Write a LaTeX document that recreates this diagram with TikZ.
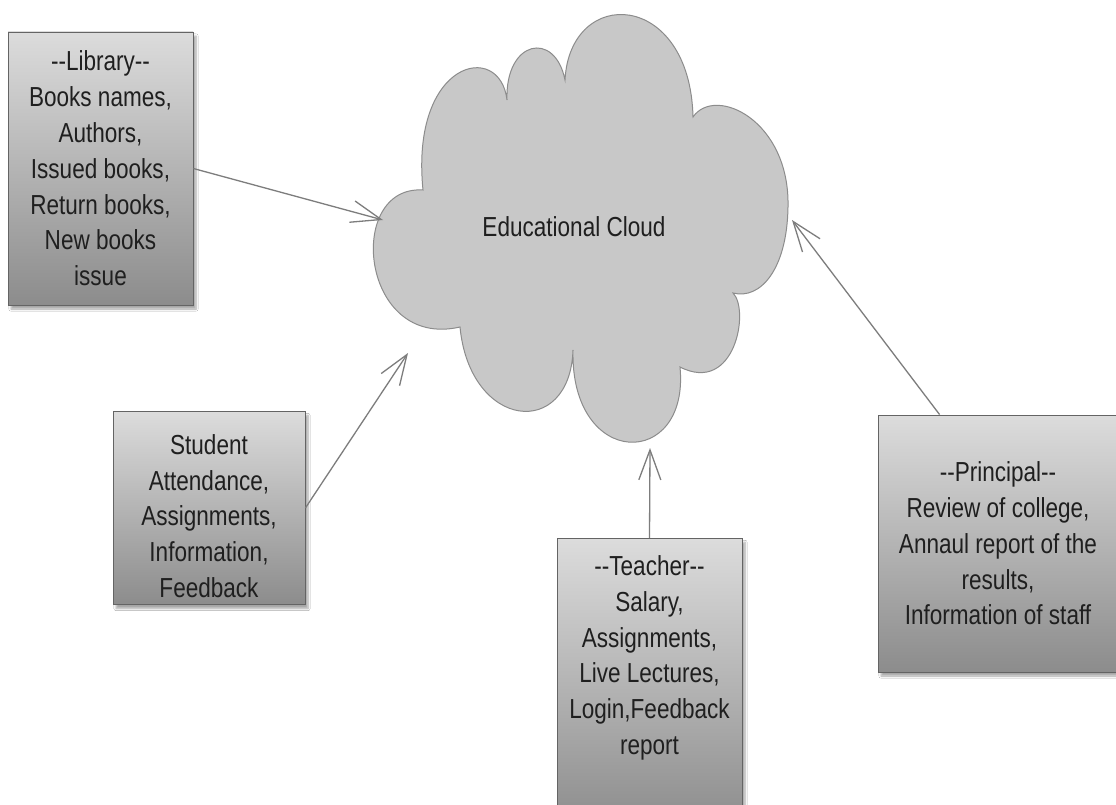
\documentclass[tikz,border=0pt]{standalone}
\usepackage{fontspec}
\setmainfont[FakeStretch=0.82]{Liberation Sans}
\usepackage{tikz}
\usetikzlibrary{calc,arrows.meta,positioning}
\usetikzlibrary{shadows.blur}
\definecolor{boxtop}{RGB}{220,220,220}
\definecolor{boxbottom}{RGB}{140,140,140}
\definecolor{boxline}{RGB}{100,100,100}
\definecolor{cloudfill}{RGB}{200,200,200}
\definecolor{cloudline}{RGB}{140,140,140}
\definecolor{linkgray}{RGB}{125,125,125}
\tikzset{
    info box/.style={
        draw=boxline,thick,
        top color=boxtop,bottom color=boxbottom,
        blur shadow={shadow xshift=3pt,shadow yshift=-4pt,shadow blur steps=6,shadow opacity=35}
    },
    box text/.style={
        align=center,text=black!88,
        font=\fontsize{27.5}{35.8}\selectfont
    },
    link/.style={
        draw=linkgray,line width=1.3pt,
        -{Straight Barb[length=30pt,width=22pt]}
    }
}

\begin{document}
\begin{tikzpicture}[x=1pt,y=-1pt]
\fill[white] (0,0) rectangle (1116,805);
\useasboundingbox (0,0) rectangle (1116,805);
\draw[cloudline,fill=cloudfill,line width=1pt] (423,190)
    .. controls (410,60) and (500,40) .. (507,100)
    .. controls (505,40) and (555,30) .. (565,80)
    .. controls (570,-15) and (690,-10) .. (693,117)
    .. controls (715,85) and (790,120) .. (788,207)
    .. controls (787,270) and (760,300) .. (733,293)
    .. controls (750,310) and (735,395) .. (680,367)
    .. controls (690,470) and (570,470) .. (573,350)
    .. controls (570,440) and (470,430) .. (460,327)
    .. controls (360,350) and (345,185) .. (423,190) -- cycle;
\node[box text] (cloud) at (574,227) {Educational Cloud};
\coordinate (libin) at (383,220);
\coordinate (stuin) at (408,353);
\coordinate (teain) at (650,448);
\coordinate (priin) at (792,220);
\node[info box,box text,minimum width=185pt,minimum height=273pt] (lib) at (100.5,168.5)
    {-{}-Library-{}-\\Books names,\\Authors,\\Issued books,\\Return books,\\New books\\issue};
\node[info box,minimum width=192pt,minimum height=193pt] (stu) at (209,508) {};
\node[box text] (stutext) at ([yshift=-8pt]stu.center)
    {Student\\Attendance,\\Assignments,\\Information,\\Feedback};
\node[info box,minimum width=185pt,minimum height=290pt,anchor=north] (tea) at (649.5,538) {};
\node[box text,below=14pt of tea.north] (teatext)
    {-{}-Teacher-{}-\\Salary,\\Assignments,\\Live Lectures,\\Login,Feedback\\report};
\node[info box,box text,minimum width=240pt,minimum height=257pt] (pri) at (998,543.5)
    {-{}-Principal-{}-\\Review of college,\\Annaul report of the\\results,\\Information of staff};
\draw[link] (lib.east) -- (libin);
\draw[link] (stu.east) -- (stuin);
\draw[link] (tea.north) -- (teain);
\draw[link] ([xshift=62pt]pri.north west) -- (priin);
\end{tikzpicture}
\end{document}
